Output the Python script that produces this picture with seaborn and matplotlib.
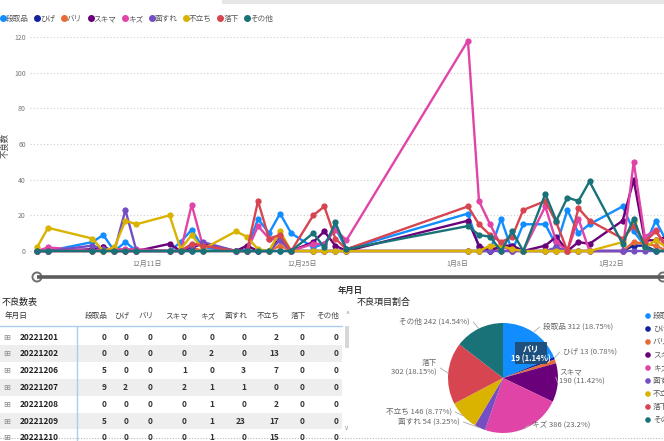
import numpy as np
import pandas as pd
import matplotlib
matplotlib.use("Agg")
import matplotlib.pyplot as plt
import matplotlib.dates as mdates
from matplotlib.lines import Line2D
from matplotlib.patches import Rectangle, Circle
import seaborn as sns

# ---- data ----
items = ["段取品", "ひげ", "バリ", "スキマ", "キズ", "面すれ", "不立ち", "落下", "その他"]
colors = ["#118DFF", "#12239E", "#E66C37", "#6B007B", "#E044A7",
          "#744EC2", "#D9B300", "#D64550", "#197278"]

dates = ["2022-12-01", "2022-12-02", "2022-12-06", "2022-12-07", "2022-12-08",
         "2022-12-09", "2022-12-10", "2022-12-13", "2022-12-14", "2022-12-15",
         "2022-12-16", "2022-12-19", "2022-12-20", "2022-12-21", "2022-12-22",
         "2022-12-23", "2022-12-24", "2022-12-26", "2022-12-27", "2022-12-28",
         "2022-12-29", "2023-01-09", "2023-01-10", "2023-01-11", "2023-01-12",
         "2023-01-13", "2023-01-14", "2023-01-16", "2023-01-17", "2023-01-18",
         "2023-01-19", "2023-01-20", "2023-01-23", "2023-01-24", "2023-01-25",
         "2023-01-26", "2023-01-27"]

dandori = [0, 0, 5, 9, 0, 5, 0, 0, 5, 12, 2, 0, 1, 18, 10, 21, 10, 2, 4, 13, 1,
           21, 2, 0, 18, 0, 15, 15, 3, 23, 10, 15, 25, 11, 3, 17, 5]
hige = [0, 0, 0, 2, 0, 0, 0, 0, 0, 0, 0, 0, 0, 0, 0, 0, 0, 0, 0, 0, 0,
        0, 0, 0, 2, 3, 0, 0, 0, 0, 0, 0, 0, 3, 3, 0, 0]
bari = [0, 0, 0, 0, 0, 0, 0, 0, 0, 2, 0, 0, 0, 0, 0, 3, 0, 0, 0, 0, 0,
        0, 0, 2, 0, 0, 0, 0, 0, 0, 0, 0, 0, 5, 4, 3, 0]
sukima = [0, 0, 1, 2, 0, 0, 0, 4, 0, 2, 4, 0, 3, 0, 0, 8, 0, 5, 11, 3, 0,
          17, 3, 0, 3, 3, 0, 3, 8, 0, 5, 4, 17, 40, 6, 6, 8]
kizu = [0, 2, 0, 1, 1, 1, 1, 0, 0, 26, 3, 0, 0, 14, 7, 6, 0, 4, 4, 12, 6,
        118, 28, 15, 3, 0, 0, 25, 5, 0, 18, 0, 0, 50, 8, 12, 0]
mensure = [0, 0, 3, 1, 0, 23, 0, 0, 0, 3, 5, 0, 0, 0, 0, 6, 0, 0, 0, 0, 0,
           0, 0, 0, 0, 0, 0, 0, 2, 0, 0, 0, 0, 0, 0, 0, 0]
futachi = [2, 13, 7, 0, 2, 17, 15, 20, 1, 9, 1, 11, 8, 1, 0, 11, 0, 0, 0, 0, 0,
           0, 0, 3, 3, 1, 0, 0, 0, 0, 0, 0, 5, 17, 2, 6, 2]
rakka = [0, 0, 0, 0, 0, 0, 0, 0, 0, 4, 3, 0, 0, 28, 7, 9, 0, 20, 25, 7, 1,
         25, 15, 9, 5, 8, 23, 28, 16, 0, 24, 17, 7, 14, 5, 11, 3]
sonota = [0, 0, 0, 0, 0, 0, 0, 0, 0, 0, 0, 0, 0, 0, 0, 0, 0, 10, 2, 16, 1,
          14, 9, 8, 0, 11, 0, 32, 17, 30, 28, 39, 4, 18, 2, 0, 0]
series = [dandori, hige, bari, sukima, kizu, mensure, futachi, rakka, sonota]

pie_totals = [312, 13, 19, 190, 386, 54, 146, 302, 242]
tick_dates = ["2022-12-11", "2022-12-25", "2023-01-08", "2023-01-22"]
n_table_rows = 7

# ---- style ----
sns.set_theme(style="white")
plt.rcParams["font.family"] = ["Noto Sans CJK JP", "DejaVu Sans"]
GRAY = "#666666"

W, H = 664, 441
def fx(px):
    return px / W
def fy(py):
    return 1 - py / H

df = pd.DataFrame({"年月日": pd.to_datetime(dates)})
for name, vals in zip(items, series):
    df[name] = vals
long = df.melt(id_vars="年月日", var_name="項目", value_name="不良数")

fig = plt.figure(figsize=(W / 100, H / 100), dpi=100)

# overlay in pixel coordinates for slider / table / titles
ov = fig.add_axes([0, 0, 1, 1])
ov.set_xlim(0, W)
ov.set_ylim(H, 0)
ov.axis("off")

# ---- line chart ----
ax = fig.add_axes([fx(30), fy(256), fx(W - 30), (256 - 30) / H])
sns.lineplot(data=long, x="年月日", y="不良数", hue="項目", hue_order=items,
             palette=colors, marker="o", markersize=4.5, markeredgewidth=0,
             linewidth=1.7, legend=False, ax=ax)
px_day = 11.05
d0 = mdates.date2num(pd.Timestamp(dates[0]))
ax.set_xlim(d0 - (37 - 30) / px_day, d0 + (W - 37) / px_day)
ax.set_ylim(-(256 - 251) / 1.783, (251 - 30) / 1.783)
ax.set_yticks(range(0, 121, 20))
td = pd.to_datetime(tick_dates)
ax.set_xticks(td)
ax.set_xticklabels([f"{d.month}月{d.day}日" for d in td])
ax.yaxis.grid(True, linestyle=(0, (1, 2)), color="#cfcfcf", linewidth=0.8)
ax.xaxis.grid(False)
ax.tick_params(length=0, labelsize=5, colors="#777777")
ax.tick_params(axis="y", pad=3)
ax.tick_params(axis="x", pad=3)
ax.set_xlabel("")
ax.set_ylabel("")
ax.patch.set_alpha(0)
sns.despine(ax=ax, left=True, bottom=True)
fig.text(fx(5), fy(145), "不良数", rotation=90, ha="center", va="center",
         fontsize=6, color="#444444")

# top legend
handles = [Line2D([], [], marker="o", ls="", color=c, markersize=4) for c in colors]
fig.legend(handles, items, loc="upper left", bbox_to_anchor=(fx(1), fy(15)),
           ncol=len(items), frameon=False, fontsize=5.5, handlelength=0.5,
           handletextpad=0.15, columnspacing=0.85, borderaxespad=0,
           borderpad=0, labelcolor="#555555")

# top header strip
ov.add_patch(Rectangle((222, 0), W - 222, 4, color="#e6e6e6", lw=0))

# ---- slider ----
ov.plot([37, W], [277, 277], color="#5c5c5c", lw=2.6, solid_capstyle="butt")
for cx in (37, W - 1):
    ov.add_patch(Circle((cx, 277), 4.5, facecolor="white", edgecolor="#6f6f6f", lw=1.4))
ov.text(350, 290, "年月日", fontsize=6, fontweight="bold", color="#333333",
        ha="center", va="center")

# ---- table ----
ov.text(2, 302, "不良数表", fontsize=6.5, color="#222222", va="center")
ov.text(5, 316, "年月日", fontsize=5.5, color="#333333", va="center")
col_right = [107, 128, 153, 187, 214, 246, 279, 305, 338]
for name, xr in zip(items, col_right):
    ov.text(xr + 1, 316, name, fontsize=5.5, color="#444444", ha="right", va="center")
ov.plot([0, 342], [326, 326], color="#a9cdee", lw=1)
ov.plot([77, 77], [326, H], color="#a9cdee", lw=1)
row_h = 16.8
for r in range(n_table_rows):
    yc = 337 + r * row_h
    if r % 2 == 1:
        ov.add_patch(Rectangle((0, yc - row_h / 2), 342, row_h, color="#eeeeee", lw=0, zorder=0))
    ov.text(7, yc, "⊞", fontsize=6, color="#888888", ha="center", va="center",
            family="DejaVu Sans")
    ov.text(20, yc, dates[r].replace("-", ""), fontsize=6, fontweight="bold",
            color="#222222", va="center")
    for vals, xr in zip(series, col_right):
        ov.text(xr, yc, str(vals[r]), fontsize=6, color="#333333", ha="right",
                va="center", fontweight="semibold")
# scrollbar
ov.text(347, 314, "^", fontsize=5, color="#888888", ha="center", va="center")
ov.add_patch(Rectangle((344.5, 326), 4, 22, color="#d6d6d6", lw=0))
ov.text(347, 428, "v", fontsize=4.5, color="#888888", ha="center", va="center")
# bottom dotted border
ov.plot([0, W], [438, 438], color="#b5b5b5", lw=0.8, linestyle=(0, (1, 1.5)))

# ---- pie ----
ov.text(357, 302, "不良項目割合", fontsize=6.5, color="#222222", va="center")
cx, cy, rad = 503, 378, 55
pax = fig.add_axes([fx(360), 0, fx(640 - 360), (H - 308) / H])
pax.pie(pie_totals, colors=colors, startangle=90, counterclock=False,
        wedgeprops=dict(linewidth=0))
pax.set_xlim((360 - cx) / rad, (640 - cx) / rad)
pax.set_ylim(-(H - cy) / rad, (cy - 308) / rad)
pax.set_aspect("auto")
pax.axis("off")

total = sum(pie_totals)
pcts = [v / total * 100 for v in pie_totals]
def fmt_pct(p):
    s = f"{p:.2f}".rstrip("0").rstrip(".")
    return s + "%"

# label anchor positions (pixel) and alignment, per item
label_px = [(543, 327, "left"), (563, 352, "left"), None, (559, 377, "left"),
            (532, 425, "left"), (460, 422, "right"), (452, 412, "right"),
            (437, 368, "right"), (470, 322, "right")]
two_line = {"スキマ", "落下"}
cum = np.cumsum([0] + pie_totals) / total
for i, name in enumerate(items):
    pos = label_px[i]
    if pos is None:
        continue
    lx, ly, ha = pos
    tx, ty = (lx - cx) / rad, (cy - ly) / rad
    mid = (cum[i] + cum[i + 1]) / 2
    ang = np.deg2rad(90 - 360 * mid)
    side = 1 if ha == "left" else -1
    sx, sy = np.cos(ang), np.sin(ang)
    pax.plot([sx, tx - side * 0.06], [sy, ty], color="#aaaaaa", lw=0.6)
    sep = "\n" if name in two_line else " "
    pax.text(tx, ty, f"{name}{sep}{pie_totals[i]} ({fmt_pct(pcts[i])})",
             fontsize=5.5, color=GRAY, ha=ha, va="center", multialignment=ha)

# highlighted label for バリ
bx0, bx1, by0, by1 = 515, 547, 342, 364
pax.add_patch(Rectangle(((bx0 - cx) / rad, (cy - by1) / rad), (bx1 - bx0) / rad,
                        (by1 - by0) / rad, facecolor="#1f4a70", alpha=0.9, lw=0))
pax.text((531 - cx) / rad, (cy - 349) / rad, items[2], fontsize=6, color="white",
         fontweight="bold", fontstyle="italic", ha="center", va="center")
pax.text((531 - cx) / rad, (cy - 359) / rad, f"{pie_totals[2]} ({fmt_pct(pcts[2])})",
         fontsize=5.5, color="white", fontweight="bold", ha="center", va="center")

# pie legend (truncated by the right edge, as in the source)
for i, (name, c) in enumerate(zip(items, colors)):
    yy = 316 + i * 13
    ov.add_patch(Circle((648, yy), 2.8, color=c, lw=0))
    ov.text(653, yy, name, fontsize=5.5, color="#555555", va="center")

fig.savefig("out.png", dpi=100)
